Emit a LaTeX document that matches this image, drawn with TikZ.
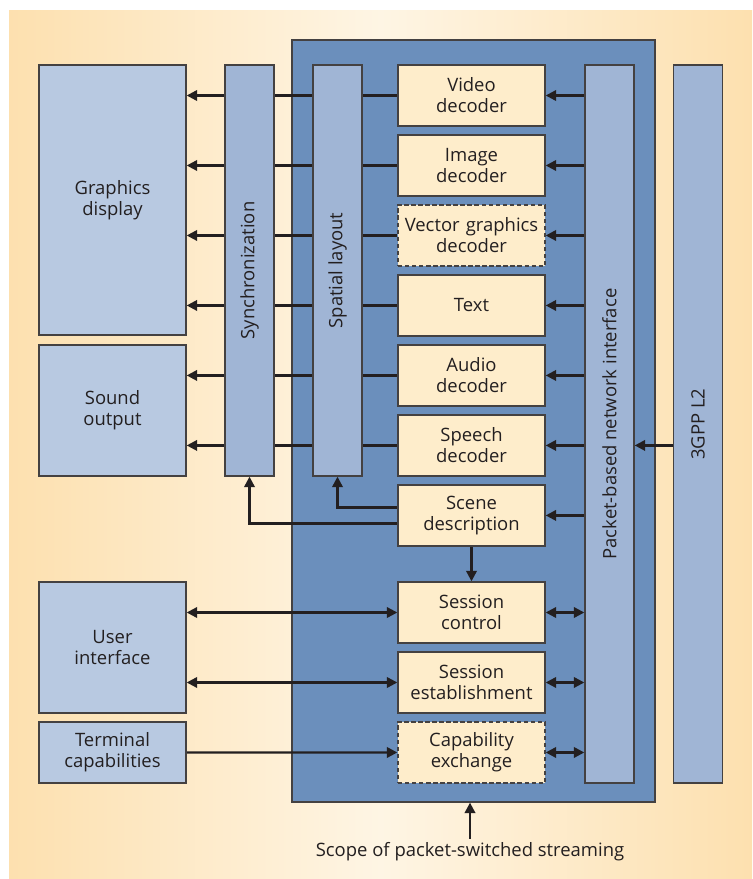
\documentclass[tikz,border=0pt]{standalone}
\usepackage{fontspec}
\setmainfont{Open Sans}
\usetikzlibrary{arrows.meta,shapes}
\definecolor{bgorange}{HTML}{FDE0AF}
\definecolor{bgcream}{HTML}{FEF5E4}
\definecolor{scopeblue}{HTML}{6B8FBC}
\definecolor{barblue}{HTML}{A0B5D5}
\definecolor{boxblue}{HTML}{B8C9E1}
\definecolor{deccream}{HTML}{FEEDCB}
\definecolor{ink}{HTML}{231F20}
\pgfdeclarelayer{bg}
\pgfdeclarelayer{lines}
\pgfsetlayers{bg,lines,main}
\tikzstyle{blk} = [rectangle, draw=ink!85, line width=0.8pt, inner sep=0pt,
    text=ink, align=center, font=\fontsize{10.5}{12}\selectfont]
\tikzstyle{dec} = [blk, fill=deccream, text width=2.94cm, minimum height=1.22cm]
\tikzstyle{decopt} = [dec, dash pattern=on 2.5pt off 1.5pt]
\tikzstyle{dev} = [blk, fill=boxblue, text width=2.94cm]
\tikzstyle{bar} = [blk, fill=barblue, minimum width=0.98cm]
\tikzstyle{link} = [draw=ink, line width=1.3pt]

\begin{document}
\begin{tikzpicture}[x=0.02cm,y=-0.02cm,>={Triangle[length=6pt,width=6pt]},
                    node distance=1.4cm]
  \useasboundingbox (0,0) rectangle (752,879);
  \begin{pgfonlayer}{bg}
    \fill[left color=bgorange, right color=bgorange, middle color=bgcream]
      (9,10) rectangle (752,879);
    \node[blk, fill=scopeblue, minimum width=7.26cm, minimum height=15.24cm]
      (scope) at (473.5,421) {};
  \end{pgfonlayer}

  \node[dev, minimum height=5.4cm]  (graph) at (112.5,200)   {Graphics\\display};
  \node[dev, minimum height=2.62cm] (sound) at (112.5,410.5) {Sound\\output};
  \node[dev, minimum height=2.62cm] (ui)    at (112.5,647.5) {User\\interface};
  \node[dev, minimum height=1.22cm] (term)  at (112.5,752.5) {Terminal\\capabilities};

  \node[bar, minimum height=8.22cm, label={[rotate=90,blk,draw=none]center:Synchronization}]
    (sync) at (249.5,270.5) {};
  \node[bar, minimum height=8.22cm, label={[rotate=90,blk,draw=none]center:Spatial layout}]
    (spatial) at (337.5,270.5) {};

  \node[dec]    (video)  at (471.5,95.5)  {Video\\decoder};
  \node[dec]    (image)  [below of=video]  {Image\\decoder};
  \node[decopt] (vector) [below of=image]  {Vector graphics\\decoder};
  \node[dec]    (text)   [below of=vector] {Text};
  \node[dec]    (audio)  [below of=text]   {Audio\\decoder};
  \node[dec]    (speech) [below of=audio]  {Speech\\decoder};
  \node[dec]    (scene)  [below of=speech] {Scene\\description};
  \node[dec]    (ctrl)   at (471.5,612.5)  {Session\\control};
  \node[dec]    (estab)  [below of=ctrl]   {Session\\establishment};
  \node[decopt] (capex)  [below of=estab]  {Capability\\exchange};

  \node[bar, minimum height=14.36cm,
        label={[rotate=90,blk,draw=none]center:Packet-based network interface}]
    (pni) at (609.5,424) {};
  \node[bar, minimum height=14.36cm, label={[rotate=90,blk,draw=none]center:3GPP L2}]
    (l2) at (698,424) {};

  \node[blk, draw=none, inner sep=2pt] (scopelbl) at (470,852)
    {Scope of packet-switched streaming};

  \begin{pgfonlayer}{lines}
    \foreach \d/\o in {video/graph,image/graph,vector/graph,text/graph,
                       audio/sound,speech/sound} {
      \draw[link,->] (\d.west) -- (\o.east |- \d.west);
      \draw[link,->] (pni.west |- \d.east) -- (\d.east);
    }
    \draw[link,->] (pni.west |- scene.east) -- (scene.east);
    \draw[link,->] ([yshift=0.16cm]scene.west) -| (spatial.south);
    \draw[link,->] ([yshift=-0.16cm]scene.west) -| (sync.south);
    \draw[link,->] (scene.south) -- (ctrl.north);
    \foreach \d in {ctrl,estab,capex}
      \draw[link,<->] (\d.east) -- (pni.west |- \d.east);
    \draw[link,<->] (ui.east |- ctrl.west) -- (ctrl.west);
    \draw[link,<->] (ui.east |- estab.west) -- (estab.west);
    \draw[link,->] (term.east) -- (capex.west);
    \draw[link,->] (l2.west |- speech.east) -- (pni.east |- speech.east);
    \draw[link,->] (scopelbl.north) -- (scopelbl.north |- scope.south);
  \end{pgfonlayer}
\end{tikzpicture}
\end{document}
